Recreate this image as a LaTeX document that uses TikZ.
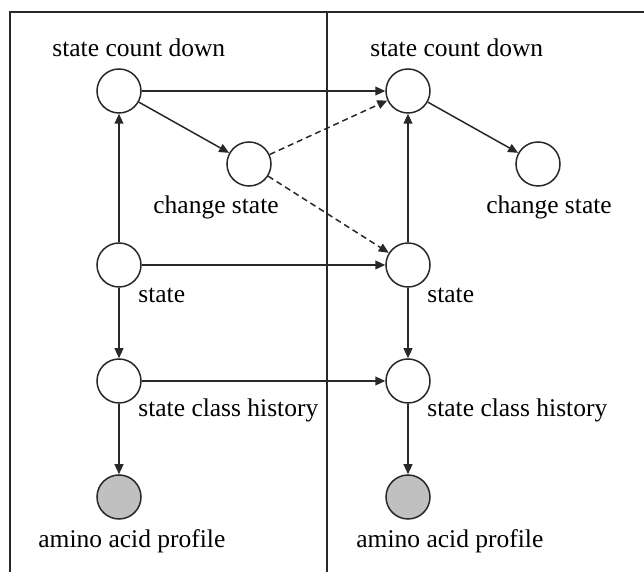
\documentclass[tikz,border=0pt]{standalone}
\usepackage{fontspec}
\setmainfont{Liberation Serif}
\usetikzlibrary{arrows.meta}
\definecolor{obsfill}{RGB}{192,192,192}
\definecolor{linec}{RGB}{40,40,40}
\begin{document}
\begin{tikzpicture}[x=0.5pt,y=-0.5pt,
  var/.style={circle,draw=linec,line width=0.75pt,minimum size=22pt,inner sep=0pt,fill=white},
  obs/.style={var,fill=obsfill},
  lbl/.style={anchor=base west,inner sep=0pt,font=\fontsize{12.75pt}{14pt}\selectfont},
  arr/.style={draw=linec,line width=0.75pt,-{Triangle[length=5pt,width=4.4pt]}},
  darr/.style={arr,dash pattern=on 3pt off 2pt},
  frame/.style={draw=linec,line width=0.8pt}]
\useasboundingbox (0,0) rectangle (644,572);
% frame
\draw[frame] (10,572) -- (10,12) -- (644,12);
\draw[frame] (327,12) -- (327,572);
% nodes left
\node[var] (lscd) at (119,91) {};
\node[var] (lcs) at (249,164) {};
\node[var] (ls) at (119,265) {};
\node[var] (lsch) at (119,381) {};
\node[obs] (laap) at (119,497) {};
% nodes right
\node[var] (rscd) at (408,91) {};
\node[var] (rcs) at (538,164) {};
\node[var] (rs) at (408,265) {};
\node[var] (rsch) at (408,381) {};
\node[obs] (raap) at (408,497) {};
% labels
\node[lbl] (lscdl) at (52,57) {state count down};
\node[lbl] (rscdl) at (370,57) {state count down};
\node[lbl] (lcsl) at (153,214) {change state};
\node[lbl] (rcsl) at (486,214) {change state};
\node[lbl] (lsl) at (138,303) {state};
\node[lbl] (rsl) at (427,303) {state};
\node[lbl] (lschl) at (138,417) {state class history};
\node[lbl] (rschl) at (427,417) {state class history};
\node[lbl] (laapl) at (38,548) {amino acid profile};
\node[lbl] (raapl) at (356,548) {amino acid profile};
% edges
\draw[arr] (lscd) -- (rscd);
\draw[arr] (lscd) -- (lcs);
\draw[darr] (lcs) -- (rscd);
\draw[darr] (lcs) -- (rs);
\draw[arr] (ls) -- (lscd);
\draw[arr] (ls) -- (rs);
\draw[arr] (ls) -- (lsch);
\draw[arr] (lsch) -- (rsch);
\draw[arr] (lsch) -- (laap);
\draw[arr] (rscd) -- (rcs);
\draw[arr] (rs) -- (rscd);
\draw[arr] (rs) -- (rsch);
\draw[arr] (rsch) -- (raap);
\end{tikzpicture}
\end{document}
